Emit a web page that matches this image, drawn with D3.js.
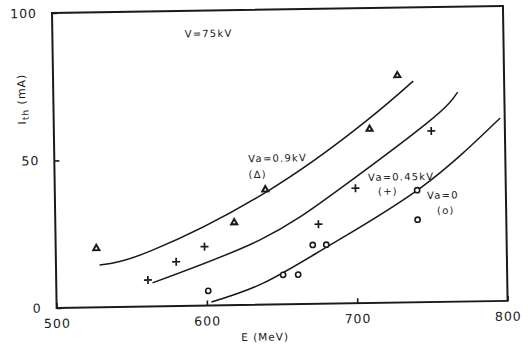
<!DOCTYPE html>
<html>
<head>
<meta charset="utf-8">
<script src="https://cdn.jsdelivr.net/npm/d3@7"></script>
<style>
  html, body { margin: 0; padding: 0; background: #fff; }
  svg { display: block; font-family: "DejaVu Sans", sans-serif; }
</style>
</head>
<body>
<svg id="chart" width="528" height="344"></svg>
<script>
// measured points, E (MeV) vs I_th (mA)
const triPts = [[527, 20], [619, 28], [640, 39], [710, 59], [729, 77]];
const plusPts = [[561, 9], [580, 15], [599, 20], [675, 27], [700, 39], [751, 58]];
const circPts = [[601, 5], [651, 10], [661, 10], [671, 20], [680, 20], [741, 38], [741, 28]];

// fitted curves
const curveTri = [[529, 14.3], [564, 19], [640, 38], [706, 61], [739.5, 75]];
const curvePlus = [[564, 8], [636, 22], [690, 39], [749, 61], [769, 71]];
const curveCirc = [[603, 1.2], [638, 7.4], [683, 20], [744, 39], [797, 62]];

const xTicks = [500, 600, 700, 800];
const yTicks = [0, 50, 100];

const notes = [
  { text: "V=75kV", x: 588, y: 91 },
  { text: "Va=0.9kV", x: 629, y: 48.4 },
  { text: "(\u0394)", x: 629, y: 43 },
  { text: "Va=0.45kV", x: 708.5, y: 41.4 },
  { text: "(+)", x: 715, y: 36.6 },
  { text: "Va=0", x: 747.5, y: 35 },
  { text: "(o)", x: 754, y: 29.8 }
];

const w = 451, h = 295;
const ink = "#1a1a1a";

const svg = d3.select("#chart");
// the scanned figure sits slightly tilted
const g = svg.append("g").attr("transform", "translate(52,13) rotate(-0.9)");

const x = d3.scaleLinear().domain([500, 800]).range([0, w]);
const y = d3.scaleLinear().domain([0, 100]).range([h, 0]);

// frame
g.append("rect")
  .attr("width", w).attr("height", h)
  .attr("fill", "none").attr("stroke", ink).attr("stroke-width", 2);

const xAxis = g.append("g")
  .attr("transform", `translate(0,${h})`)
  .call(d3.axisBottom(x).tickValues(xTicks).tickSize(-5).tickPadding(11).tickFormat(d3.format("d")));
const yAxis = g.append("g")
  .call(d3.axisLeft(y).tickValues(yTicks).tickSize(-5).tickPadding(15).tickFormat(d3.format("d")));

[xAxis, yAxis].forEach((a) => {
  a.select(".domain").remove();
  a.selectAll("line").attr("stroke", ink).attr("stroke-width", 1.6);
  a.selectAll("text")
    .attr("fill", ink)
    .style("font-size", "12.5px")
    .style("letter-spacing", "1px")
    .style("font-family", "'DejaVu Sans', sans-serif");
});

// axis titles
g.append("text")
  .attr("x", 208).attr("y", 331)
  .attr("text-anchor", "middle")
  .attr("fill", ink)
  .style("font-size", "10.5px")
  .style("letter-spacing", "1px")
  .text("E (MeV)");

const yl = g.append("text")
  .attr("transform", `translate(-28,${y(71)}) rotate(-90)`)
  .attr("text-anchor", "middle")
  .attr("fill", ink)
  .style("font-size", "11px")
  .style("letter-spacing", "1px");
yl.append("tspan").text("I");
yl.append("tspan").attr("dy", 3).style("font-size", "9px").text("th");
yl.append("tspan").attr("dy", -3).text(" (mA)");

// curves
const line = d3.line().x((d) => x(d[0])).y((d) => y(d[1])).curve(d3.curveNatural);
[curveTri, curvePlus, curveCirc].forEach((c) => {
  g.append("path")
    .attr("d", line(c))
    .attr("fill", "none")
    .attr("stroke", ink)
    .attr("stroke-width", 1.5);
});

// markers
g.append("g").selectAll("path")
  .data(triPts)
  .join("path")
  .attr("d", d3.symbol(d3.symbolTriangle, 16))
  .attr("transform", (d) => `translate(${x(d[0])},${y(d[1])})`)
  .attr("fill", "#fff")
  .attr("stroke", ink)
  .attr("stroke-width", 2);

g.append("g").selectAll("path")
  .data(plusPts)
  .join("path")
  .attr("d", "M-4,0H4M0,-4V4")
  .attr("transform", (d) => `translate(${x(d[0])},${y(d[1])})`)
  .attr("stroke", ink)
  .attr("stroke-width", 1.7);

g.append("g").selectAll("circle")
  .data(circPts)
  .join("circle")
  .attr("cx", (d) => x(d[0]))
  .attr("cy", (d) => y(d[1]))
  .attr("r", 2.6)
  .attr("fill", "#fff")
  .attr("stroke", ink)
  .attr("stroke-width", 1.6);

// annotations
g.append("g").selectAll("text")
  .data(notes)
  .join("text")
  .attr("x", (d) => x(d.x))
  .attr("y", (d) => y(d.y))
  .attr("fill", ink)
  .style("font-size", "10px")
  .style("letter-spacing", "1.2px")
  .text((d) => d.text);
</script>
</body>
</html>
